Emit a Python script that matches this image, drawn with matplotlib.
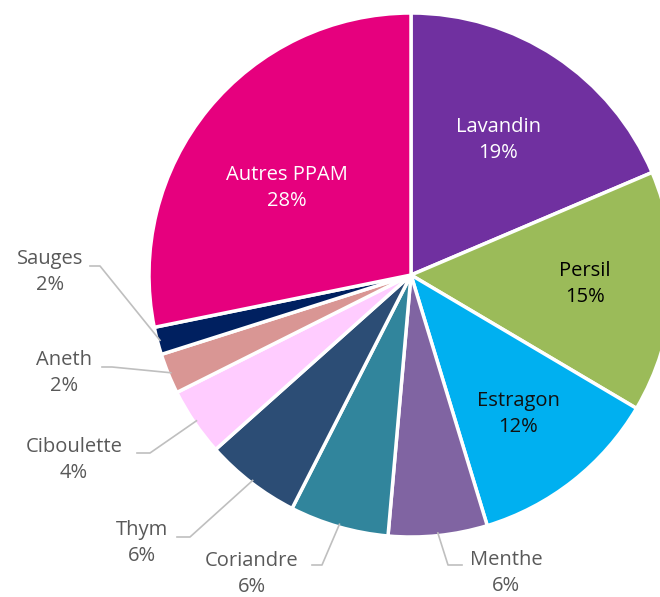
import numpy as np
import matplotlib.pyplot as plt

plt.rcParams['font.family'] = ['Open Sans', 'DejaVu Sans']

# données (parts en %)
labels = ['Lavandin', 'Persil', 'Estragon', 'Menthe', 'Coriandre', 'Thym',
          'Ciboulette', 'Aneth', 'Sauges', 'Autres PPAM']
values = [18.6, 14.9, 11.8, 6.1, 6.1, 5.9, 4.2, 2.5, 1.7, 28.2]
shown = ['19%', '15%', '12%', '6%', '6%', '6%', '4%', '2%', '2%', '28%']
colors = ['#7030A0', '#9BBB59', '#00B0F0', '#8064A2', '#31859C', '#2C4D75',
          '#FFCCFF', '#D99694', '#002060', '#E6007E']

W, H = 660, 597
fig = plt.figure(figsize=(W / 100, H / 100), dpi=100)
ax = fig.add_axes([0, 0, 1, 1])

cx, cy, r = 411, 275, 262
wedges, _ = ax.pie(values, colors=colors, startangle=-90, counterclock=True,
                   center=(cx, cy), radius=r, frame=True,
                   wedgeprops=dict(edgecolor='white', linewidth=2.5))
ax.set_xlim(0, W)
ax.set_ylim(H, 0)
ax.set_aspect('equal')
ax.axis('off')

fs = 14.5
ls = 1.4
# étiquettes à l'intérieur
inside = {0: (498, 140, 'white'), 1: (585, 284, 'black'),
          2: (518, 414, '#111111'), 9: (287, 188, 'white')}
for i, (x, y, c) in inside.items():
    ax.text(x, y, labels[i] + '\n' + shown[i], ha='center', va='center',
            fontsize=fs, color=c, linespacing=ls)

# étiquettes à l'extérieur avec traits de rappel
outside = {
    8: ((50, 272), [(90, 266), (100, 266)]),
    7: ((64, 373), [(102, 367), (112, 367)]),
    6: ((74, 460), [(137, 453), (150, 453)]),
    5: ((142, 543), [(177, 537), (190, 537)]),
    4: ((252, 574), [(312, 565), (322, 565)]),
    3: ((506, 573), [(462, 565), (448, 565)]),
}
for i, ((tx, ty), pts) in outside.items():
    w = wedges[i]
    mid = np.deg2rad((w.theta1 + w.theta2) / 2)
    ex = cx + r * 0.99 * np.cos(mid)
    ey = cy + r * 0.99 * np.sin(mid)
    xs = [p[0] for p in pts] + [ex]
    ys = [p[1] for p in pts] + [ey]
    ax.plot(xs, ys, color='#BFBFBF', lw=1.2)
    ax.text(tx, ty, labels[i] + '\n' + shown[i], ha='center', va='center',
            fontsize=fs, color='#595959', linespacing=ls)

plt.savefig('out.png', dpi=100)
